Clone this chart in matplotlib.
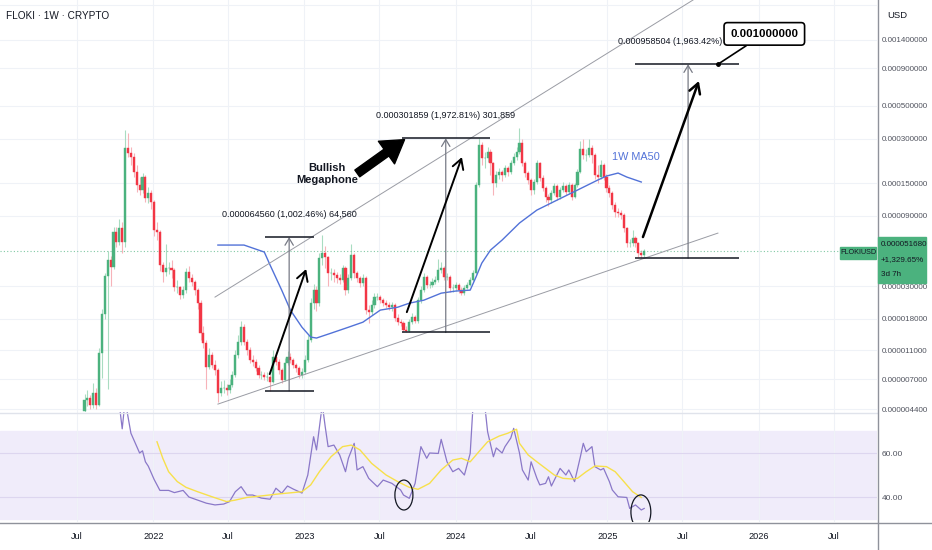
import numpy as np
import pandas as pd
import matplotlib
matplotlib.use('Agg')
import matplotlib.pyplot as plt
import matplotlib.dates as mdates
from matplotlib.patches import Ellipse, FancyArrowPatch, Rectangle
from matplotlib.lines import Line2D

plt.rcParams['font.family'] = ['Liberation Sans', 'DejaVu Sans']

# weekly FLOKI candles, prices in micro-USD (1e-6)
start = '2021-07-19'
first_open = 4.3
closes = [
    5.07, 5.23, 4.69, 5.65, 4.69, 10.55, 19.4, 35.2, 45.1, 40.4,
    69.8, 59.7, 74.3, 59.7, 259, 240, 225, 178, 146, 134.5,
    165, 119, 128, 112, 72.0, 69.8, 41.7, 37.4, 39.8, 39.8,
    38.6, 29.6, 29.6, 26.1, 28.2, 37.4, 34.1, 32.0, 28.2, 23.0,
    14.4, 12.3, 8.48, 10.2, 8.75, 8.09, 5.65, 6.11, 6.11, 5.92,
    6.40, 7.48, 10.2, 12.5, 15.8, 12.5, 11.06, 9.46, 9.17, 8.35,
    7.48, 7.48, 7.25, 7.25, 6.71, 9.92, 9.17, 8.09, 6.92, 9.03,
    9.92, 9.46, 8.75, 8.35, 7.48, 7.84, 9.46, 12.93, 23.0, 28.2,
    23.0, 46.5, 50.3, 47.3, 36.8, 36.8, 35.7, 34.1, 33.0, 39.8,
    28.2, 34.1, 48.7, 36.8, 34.1, 31.5, 34.1, 20.65, 20.0, 22.3,
    25.3, 25.3, 24.1, 23.0, 22.3, 21.6, 22.3, 18.2, 17.1, 16.9,
    15.1, 14.9, 17.1, 18.5, 17.4, 24.1, 28.2, 34.6, 30.5, 30.5,
    32.0, 33.0, 38.6, 39.8, 34.6, 34.6, 29.1, 29.1, 30.5, 28.2,
    26.9, 29.1, 30.5, 33.0, 36.8, 145.5, 272, 222, 222, 243,
    205, 150, 170, 178, 170, 190, 178, 205, 225, 243,
    280, 205, 175, 157, 134.5, 152.5, 205, 162, 139, 121,
    115, 128, 143, 121, 134.5, 143, 130, 145.5, 121, 145.5,
    178, 255, 232, 232, 259, 232, 170, 165, 199, 165,
    139, 128, 106.5, 95.4, 94.0, 91.0, 74.3, 58.8, 58.8, 63.6,
    58.8, 50.3, 48.7, 51.68,
]
highs = [
    5.6, 5.9, 5.5, 6.6, 6.1, 11.5, 21, 37, 52, 48,
    75, 76, 85, 82, 343, 330, 265, 240, 200, 165,
    175, 170, 140, 135, 115, 82, 72, 44, 58, 44,
    45, 40, 33, 30, 30, 40, 41, 36, 33, 29,
    24, 16, 13, 11.5, 10.8, 9.5, 8.4, 6.8, 6.9, 6.5,
    7.0, 8.0, 11, 14, 17.5, 16.5, 13.2, 11.6, 10.2, 9.6,
    8.8, 8.0, 7.9, 7.8, 7.6, 11, 10.8, 9.6, 8.4, 9.8,
    10.9, 10.6, 9.8, 9.1, 8.6, 8.4, 10.2, 14, 25, 31,
    30, 50, 67, 56, 48, 40, 39, 37.5, 36, 42,
    41, 36, 58, 50, 38, 35, 36, 35, 22.5, 24,
    27, 27, 26, 25, 24, 23.5, 23.5, 23, 19.3, 18,
    17.5, 16, 18, 19.6, 19.2, 25.5, 30, 37, 35.5, 32.5,
    34, 35, 46, 44, 41, 37, 35.5, 31, 32, 31.5,
    29.5, 30.5, 32, 34.5, 38.5, 152, 302, 285, 245, 265,
    255, 210, 180, 190, 185, 200, 195, 215, 240, 262,
    355, 300, 212, 180, 162, 160, 215, 210, 170, 143,
    127, 134, 150, 147, 142, 152, 149, 152, 150, 150,
    188, 290, 298, 255, 300, 270, 238, 200, 215, 205,
    172, 145, 132, 112, 102, 98, 94, 76, 63, 72,
    66, 60, 52.5, 53.5,
]
lows = [
    4.1, 4.6, 4.4, 4.5, 4.4, 4.6, 7.2, 18, 6.0, 30,
    39, 55, 57, 50, 55, 225, 200, 165, 130, 125,
    128, 112, 110, 100, 66, 62, 38, 32, 35, 36,
    34, 28, 27, 24.5, 25, 27, 32, 30, 26, 21,
    13, 11.5, 6.0, 8.2, 8.3, 7.5, 4.9, 5.4, 5.7, 5.5,
    5.7, 6.2, 7.3, 9.8, 12, 12, 10.3, 9.0, 8.6, 8.0,
    7.1, 7.0, 6.9, 6.8, 5.86, 6.6, 8.7, 7.6, 6.6, 6.8,
    8.8, 9.0, 8.3, 7.9, 7.1, 7.2, 7.6, 9.2, 12.5, 21,
    20.5, 22, 42, 40, 30, 33, 32, 31.5, 31, 32,
    26, 27, 33, 34, 32, 29.5, 30, 19.5, 17, 19.2,
    21.5, 24, 23, 22, 21.3, 20.8, 20.5, 17.5, 16.3, 16.2,
    14.7, 14.56, 14.6, 16.6, 16.8, 17.0, 23, 27.5, 29, 29,
    29.5, 31, 32, 37, 33, 33, 27.5, 27.5, 28, 27,
    26, 26.2, 28.5, 30, 32.5, 36, 140, 200, 190, 210,
    170, 125, 140, 160, 155, 165, 168, 172, 198, 215,
    235, 195, 165, 148, 125, 127, 148, 155, 133, 112,
    105, 110, 124, 115, 117, 130, 125, 126, 116, 118,
    140, 175, 220, 212, 225, 205, 160, 150, 160, 158,
    130, 120, 100, 88, 88, 86, 70, 55, 55, 56,
    55, 47, 46.45, 47.5,
]

# 1W MA50 (week index into the candles, micro-USD)
ma50_week = [46, 55, 62, 64, 68, 71, 75, 78, 80, 85, 91, 96, 102, 108, 112, 117,
             123, 128, 133, 135, 137, 140, 144, 150, 156, 163, 170, 177, 180, 184, 187, 192]
ma50 = [57.0, 57.0, 51.1, 41.7, 28.2, 20.65, 15.8, 13.55, 13.35, 14.4, 15.8, 17.1,
        20.65, 21.6, 23.0, 24.1, 26.9, 27.8, 28.2, 34.6, 43.0, 52.7, 61.6, 80.4,
        98.4, 115.1, 134.5, 157.3, 167.4, 175.4, 164.8, 152.5]

# RSI pane
rsi_week = [12, 13, 14, 16, 18, 19, 20, 21, 22, 24, 26, 29, 31, 34, 36, 39, 42, 45, 48, 50,
            52, 54, 56, 58, 61, 64, 66, 68, 70, 72, 75, 77, 79, 80, 82, 83, 84, 86, 88, 90,
            91, 93, 94, 96, 98, 101, 103, 106, 109, 110, 112, 114, 116, 118, 119, 122, 123,
            125, 127, 129, 131, 133, 134, 138, 139, 141, 142, 144, 145, 147, 148, 150, 151,
            153, 154, 156, 157, 159, 160, 161, 164, 166, 167, 169, 171, 172, 173, 175, 176,
            178, 179, 181, 182, 184, 187, 188, 190, 192, 193]
rsi = [82, 71, 84, 69, 63, 60, 61, 56, 54, 48, 43, 43, 42, 43, 40, 38.6, 37.2, 36.4, 36.8, 37.9,
       42.4, 44.7, 40.9, 40.9, 39.5, 39, 44, 41.7, 45, 43.6, 41.8, 50, 67.4, 61.4, 82, 72, 62.9,
       63.6, 59.1, 51.5, 57.6, 64.4, 52.3, 53.8, 48.5, 44.7, 47.7, 46.2, 43.2, 40.9, 39.4, 46.2,
       62.9, 57.6, 60, 59.8, 66.2, 56, 51.5, 53, 50, 59.8, 82, 82, 69.7, 58.3, 62.3, 60, 62.9,
       66.8, 71.2, 60, 52.3, 47.7, 56, 48.5, 45.5, 46.2, 49.2, 45, 53, 50, 52.3, 47, 58.3, 64.4,
       60.6, 62.9, 53.8, 52.3, 53, 47, 43.2, 40.1, 39.8, 34.8, 36.4, 34.1, 34.8]
rsi_ma_week = [25, 27, 29, 32, 35, 39, 44, 49, 52, 56, 61, 67, 75, 78, 81, 85, 89, 92, 95, 99,
               104, 108, 112, 115, 119, 123, 127, 130, 133, 136, 139, 143, 146, 149, 150, 153,
               156, 159, 162, 165, 168, 170, 173, 176, 180, 183, 186, 189, 192]
rsi_ma = [65.1, 57.6, 51.5, 47, 44.4, 42.4, 40.1, 37.9, 38.6, 39.8, 40.5, 41.4, 42.4, 45.5, 51.5,
          58.3, 62.9, 63.6, 61.4, 55.3, 50, 47, 44.4, 43.5, 46.2, 52.3, 56.8, 57.6, 56, 60.6, 65.1,
          67.7, 69, 70.8, 64.4, 59.1, 56, 53, 50, 48.5, 48.2, 48.5, 51.5, 54.1, 53.8, 51.5, 47,
          42.4, 39.8]

price_ticks = [0.0014, 0.0009, 0.0005, 0.0003, 0.00015, 0.00009, 0.00003,
               0.000018, 0.000011, 0.000007, 0.0000044]
time_ticks = ['2021-07-01', '2022-01-01', '2022-07-01', '2023-01-01', '2023-07-01', '2024-01-01',
              '2024-07-01', '2025-01-01', '2025-07-01', '2026-01-01', '2026-07-01']
time_labels = ['Jul', '2022', 'Jul', '2023', 'Jul', '2024', 'Jul', '2025', 'Jul', '2026', 'Jul']
last_price = 51.68

GREEN = '#4bb27e'
RED = '#f23645'
BLUE = '#5272d8'
INK = '#131722'
GRID = '#eff2f7'

def d(s):
    return mdates.date2num(pd.Timestamp(s))

W, H = 932, 550
fig = plt.figure(figsize=(W / 100, H / 100), dpi=100)
ax = fig.add_axes([0, 1 - 412 / H, 877 / W, 412 / H])
axr = fig.add_axes([0, 1 - 522 / H, 877 / W, 110 / H], sharex=ax)

weeks = pd.date_range(start, periods=len(closes), freq='7D')
x = mdates.date2num(weeks)
c = np.array(closes)
o = np.r_[first_open, c[:-1]]
up = c >= o
col = np.where(up, GREEN, RED)
wcol = np.where(up, '#a9dcc1', '#f7b3b9')

ax.vlines(x, np.array(lows) * 1e-6, np.array(highs) * 1e-6, colors=wcol, lw=0.8, zorder=2)
ax.bar(x, np.abs(c - o) * 1e-6, bottom=np.minimum(o, c) * 1e-6, width=5.0,
       color=col, edgecolor=col, lw=0.3, zorder=3)
ax.plot(x[ma50_week], np.array(ma50) * 1e-6, color=BLUE, lw=1.0, zorder=4)
ax.axhline(last_price * 1e-6, color=GREEN, lw=0.8, ls=(0, (1, 2)), alpha=0.7, zorder=2)

ax.set_yscale('log')
ax.set_xlim(d('2020-12-27'), d('2026-10-14'))
ax.set_ylim(4.208e-6, 2613.5e-6)
ax.yaxis.set_minor_locator(matplotlib.ticker.NullLocator())
ax.yaxis.tick_right()
ax.set_yticks(price_ticks)
ax.set_yticklabels([f'{v:.9f}' for v in price_ticks])
ax.tick_params(axis='y', length=0, pad=3.6, labelsize=5.8, labelcolor='#50535e')
ax.tick_params(axis='x', length=0, labelbottom=False)
ax.set_xticks([d(t) for t in time_ticks])
ax.grid(True, color=GRID, lw=0.8)
ax.axhline(0.0024, color=GRID, lw=0.8, zorder=0)
ax.set_axisbelow(True)
for s in ax.spines.values():
    s.set_visible(False)

# megaphone
ax.plot([d('2022-05-30'), d('2025-07-27')], [25.3e-6, 2614e-6], color='#9a9ca4', lw=0.7, zorder=5)
ax.plot([d('2022-06-06'), d('2025-09-25')], [4.76e-6, 68.7e-6], color='#9a9ca4', lw=0.7, zorder=5)

def measure(t0, t1, tm, lo, hi, label):
    ax.hlines([lo, hi], d(t0), d(t1), color=INK, lw=1.1, zorder=6)
    ax.annotate('', xy=(d(tm), hi), xytext=(d(tm), lo),
                arrowprops=dict(arrowstyle='->,head_length=0.5,head_width=0.3', color='#787b86',
                                lw=0.9, shrinkA=0, shrinkB=0), zorder=5)
    ax.annotate(label, xy=(d(tm), hi), xytext=(0, 16.5), textcoords='offset points',
                ha='center', va='center', fontsize=6.5, color=INK, zorder=6)

measure('2022-09-28', '2023-01-24', '2022-11-25', 5.856e-6, 64.56e-6, '0.000064560 (1,002.46%) 64,560')
measure('2023-08-24', '2024-03-24', '2023-12-08', 14.56e-6, 301.859e-6, '0.000301859 (1,972.81%) 301,859')
measure('2025-03-09', '2025-11-15', '2025-07-15', 46.45e-6, 958.504e-6, '0.000958504 (1,963.42%) 958,504')

def arrow(t0, p0, t1, p1, lw=1.4):
    ax.annotate('', xy=(d(t1), p1), xytext=(d(t0), p0),
                arrowprops=dict(arrowstyle='->,head_length=0.7,head_width=0.4', color='black',
                                lw=lw, shrinkA=0, shrinkB=0), zorder=7)

arrow('2022-10-09', 7.60e-6, '2023-01-05', 39.2e-6)
arrow('2023-09-05', 20.0e-6, '2024-01-16', 225e-6)
arrow('2025-03-28', 64.6e-6, '2025-08-10', 738e-6, lw=1.8)

ax.add_patch(FancyArrowPatch((d('2023-05-03'), 170e-6), (d('2023-09-05'), 303e-6),
                             arrowstyle='simple,head_length=0.8,head_width=1.0,tail_width=0.3',
                             mutation_scale=20, color='black', zorder=7))
ax.text(d('2023-02-24'), 172.7e-6, 'Bullish\nMegaphone', ha='center', va='center',
        fontsize=8, fontweight='bold', color=INK, linespacing=1.25, zorder=7)
ax.text(d('2025-01-13'), 225e-6, '1W MA50', color=BLUE, fontsize=7.8, ha='left', va='center', zorder=7)

ax.plot(d('2025-09-25'), 958.5e-6, 'o', ms=2.5, color='black', zorder=9)
ax.annotate('0.001000000', xy=(d('2025-09-25'), 958.5e-6), xytext=(d('2026-01-15'), 1540e-6),
            ha='center', va='center', fontsize=8.2, fontweight='bold', color='black',
            bbox=dict(boxstyle='round,pad=0.55,rounding_size=0.3', fc='white', ec='black', lw=1.2),
            arrowprops=dict(arrowstyle='-', color='black', lw=1.2, shrinkA=0, shrinkB=0), zorder=9)

# RSI pane
axr.axhspan(30, 70, color='#f0ecfa', zorder=0)
axr.plot(x[rsi_week], rsi, color='#8a78c8', lw=0.9, zorder=3)
axr.plot(x[rsi_ma_week], rsi_ma, color='#f7e04b', lw=1.0, zorder=4)
axr.set_ylim(28.64, 78.64)
axr.yaxis.tick_right()
axr.set_yticks([60, 40])
axr.set_yticklabels(['60.00', '40.00'])
axr.tick_params(axis='y', length=0, pad=3.6, labelsize=6, labelcolor='#50535e')
axr.set_xticks([d(t) for t in time_ticks])
axr.set_xticklabels(time_labels)
axr.tick_params(axis='x', length=0, pad=7, labelsize=6.6, labelcolor=INK)
axr.grid(True, axis='x', color=GRID, lw=0.8)
axr.grid(True, axis='y', color='#ddd6ef', lw=0.8)
axr.set_axisbelow(True)
for s in axr.spines.values():
    s.set_visible(False)
axr.add_patch(Ellipse((d('2023-08-29'), 40.9), 43.5, 13.6, fill=False, ec=INK, lw=0.9, zorder=5))
axr.add_patch(Ellipse((d('2025-03-23'), 33.2), 48, 15.5, fill=False, ec=INK, lw=0.9, zorder=5))

# frame lines
fig.add_artist(Line2D([0, 877 / W], [1 - 412.5 / H] * 2, color='#e0e3eb', lw=1))
fig.add_artist(Line2D([0, 1], [1 - 522.5 / H] * 2, color='#8f929b', lw=1))
fig.add_artist(Line2D([877.5 / W] * 2, [0, 1], color='#8f929b', lw=1))

# header and price labels
fig.text(6 / W, 1 - 16 / H, 'FLOKI · 1W · CRYPTO', fontsize=7.2, color=INK, va='center')
fig.text(887 / W, 1 - 16 / H, 'USD', fontsize=6.8, color=INK, va='center')
fig.add_artist(Rectangle((878 / W, 1 - 283 / H), 48 / W, 46 / H, transform=fig.transFigure,
                         color=GREEN, zorder=5))
for yy, s in [(245, f'{last_price * 1e-6:.9f}'), (260, '+1,329.65%'), (275, '3d 7h')]:
    fig.text(881 / W, 1 - yy / H, s, fontsize=5.8, color=INK, va='center', zorder=6)
fig.add_artist(Rectangle((840 / W, 1 - 259 / H), 36 / W, 12 / H, transform=fig.transFigure,
                         color=GREEN, zorder=5))
fig.text(858 / W, 1 - 253 / H, 'FLOKIUSD', fontsize=5.2, color=INK, ha='center', va='center', zorder=6)

fig.savefig('out.png', dpi=100)
